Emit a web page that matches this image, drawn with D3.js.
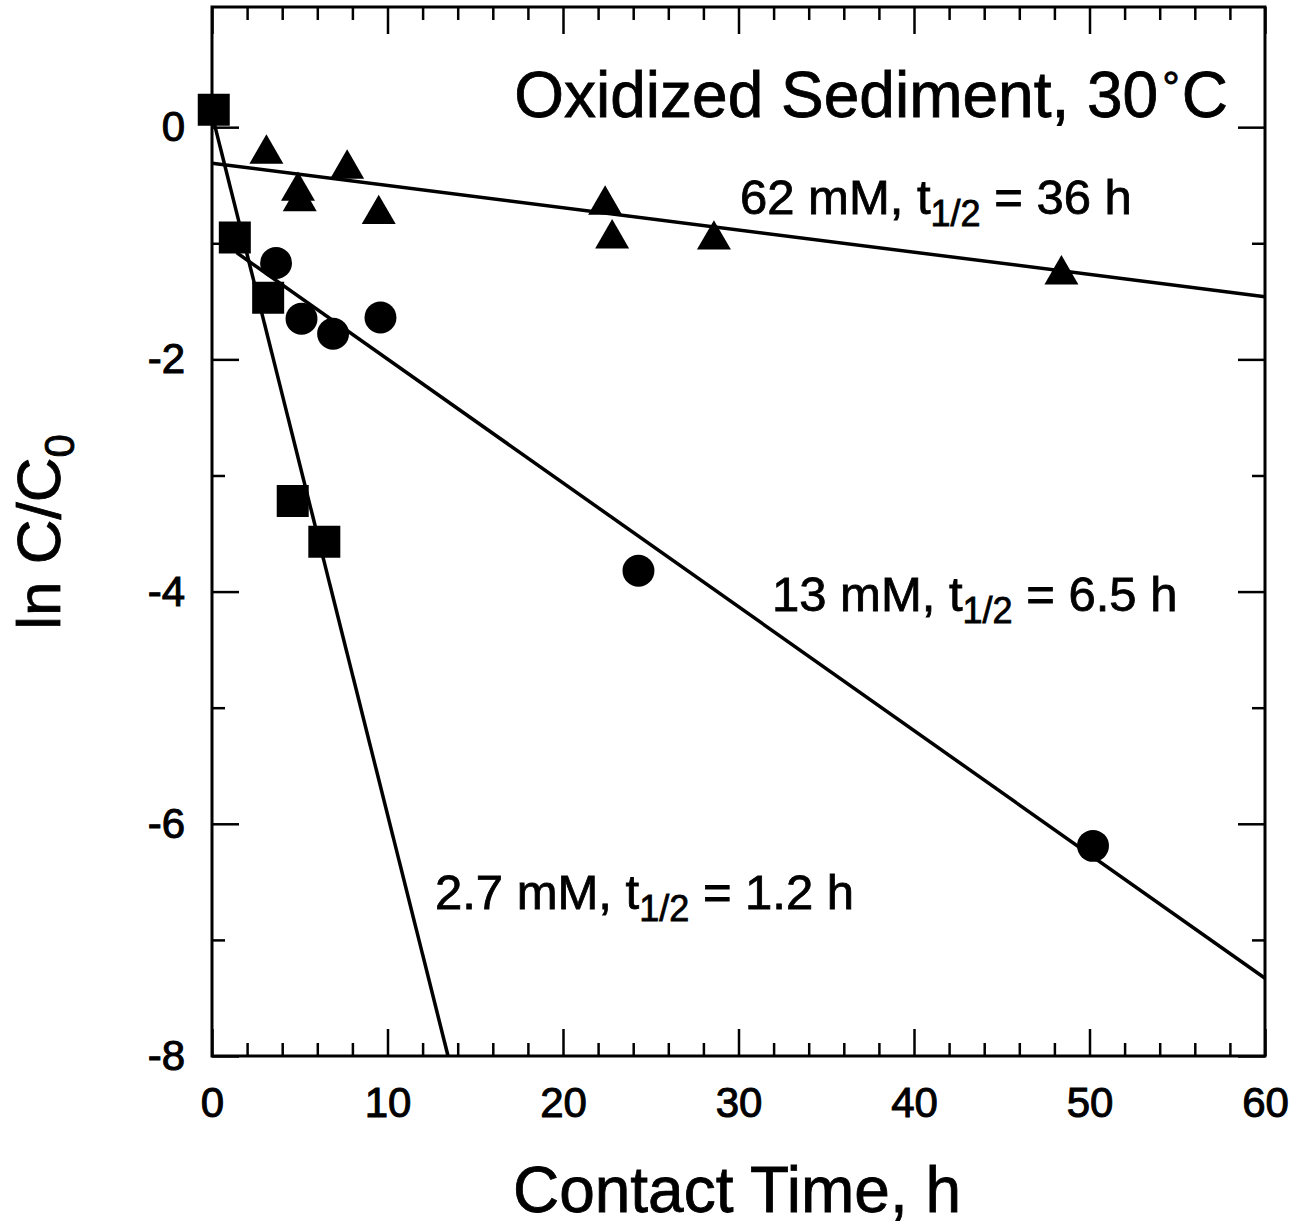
<!DOCTYPE html>
<html>
<head>
<meta charset="utf-8">
<script src="https://cdn.jsdelivr.net/npm/d3@7"></script>
<style>
  body { margin: 0; background: #fff; }
  text { font-family: "Liberation Sans", Arial, Helvetica, sans-serif; fill: #000; white-space: pre; }
</style>
</head>
<body>
<div id="chart"></div>
<script>
// values: x = contact time (h), y = ln C/C0
const sq27X = [0.1, 1.3, 3.2, 4.6, 6.4];
const sq27Y = [0.15, -0.95, -1.47, -3.22, -3.57];
const ci13X = [3.65, 5.1, 6.9, 9.6, 24.3, 50.2];
const ci13Y = [-1.17, -1.65, -1.78, -1.64, -3.82, -6.19];
const tr62X = [3.1, 4.9, 5.0, 7.7, 9.5, 22.4, 22.8, 28.6, 48.4];
const tr62Y = [-0.23, -0.55, -0.64, -0.36, -0.75, -0.67, -0.96, -0.97, -1.27];

// fitted first-order decay lines [start, end]
const fit27 = [[0.1, 0.05], [13.45, -8]];
const fit13 = [[1.4, -1.08], [60, -7.33]];
const fit62 = [[0, -0.31], [60, -1.46]];

const xMajor = [0, 10, 20, 30, 40, 50, 60];
const xMinor = [2, 4, 6, 8, 12, 14, 16, 18, 22, 24, 26, 28, 32, 34, 36, 38, 42, 44, 46, 48, 52, 54, 56, 58];
const yMajor = [-8, -6, -4, -2, 0];
const yMinor = [-7, -5, -3, -1];

const W = 1302, H = 1226;
const L = 212, R = 1265, T = 7, B = 1056;

const svg = d3.select("#chart").append("svg")
    .attr("width", W)
    .attr("height", H);

const x = d3.scaleLinear().domain([0, 60]).range([L, R]);
const y = d3.scaleLinear().domain([-8, 1.035]).range([B, T]);

function styleAxis(g) {
    g.select(".domain").remove();
    g.selectAll(".tick line").attr("stroke", "#000").attr("stroke-width", 2.5);
    g.selectAll(".tick text").attr("font-size", 42).attr("fill", "#000")
        .attr("stroke", "#000").attr("stroke-width", 1)
        .attr("font-family", "Liberation Sans, Arial, sans-serif");
}

// ticks (all inward)
svg.append("g").attr("transform", `translate(0,${B})`)
    .call(d3.axisBottom(x).tickValues(xMajor).tickSize(-27).tickPadding(31).tickFormat(d3.format("d")))
    .call(styleAxis);
svg.append("g").attr("transform", `translate(0,${B})`)
    .call(d3.axisBottom(x).tickValues(xMinor).tickSize(-13).tickFormat(""))
    .call(styleAxis);
svg.append("g").attr("transform", `translate(0,${T})`)
    .call(d3.axisTop(x).tickValues(xMajor).tickSize(-27).tickFormat(""))
    .call(styleAxis);
svg.append("g").attr("transform", `translate(0,${T})`)
    .call(d3.axisTop(x).tickValues(xMinor).tickSize(-13).tickFormat(""))
    .call(styleAxis);

svg.append("g").attr("transform", `translate(${L},0)`)
    .call(d3.axisLeft(y).tickValues(yMajor).tickSize(-27).tickPadding(27).tickFormat(d3.format("d")))
    .call(styleAxis);
svg.append("g").attr("transform", `translate(${L},0)`)
    .call(d3.axisLeft(y).tickValues(yMinor).tickSize(-13).tickFormat(""))
    .call(styleAxis);
svg.append("g").attr("transform", `translate(${R},0)`)
    .call(d3.axisRight(y).tickValues(yMajor).tickSize(-27).tickFormat(""))
    .call(styleAxis);
svg.append("g").attr("transform", `translate(${R},0)`)
    .call(d3.axisRight(y).tickValues(yMinor).tickSize(-13).tickFormat(""))
    .call(styleAxis);

// use hyphen-minus like the original
svg.selectAll(".tick text").text(function() { return this.textContent.replace("\u2212", "-"); });

// frame
svg.append("rect")
    .attr("x", L).attr("y", T)
    .attr("width", R - L).attr("height", B - T)
    .attr("fill", "none")
    .attr("stroke", "#000")
    .attr("stroke-width", 3);

// fit lines
const line = d3.line().x(d => x(d[0])).y(d => y(d[1]));
[fit62, fit13, fit27].forEach(f => {
    svg.append("path")
        .datum(f)
        .attr("fill", "none")
        .attr("stroke", "#000")
        .attr("stroke-width", 3.5)
        .attr("d", line);
});

// markers
function drawMarkers(xs, ys, type, size) {
    svg.append("g").selectAll("path")
        .data(xs.map((v, i) => [v, ys[i]]))
        .enter().append("path")
        .attr("transform", d => `translate(${x(d[0])},${y(d[1])})`)
        .attr("d", d3.symbol().type(type).size(size))
        .attr("fill", "#000");
}
drawMarkers(tr62X, tr62Y, d3.symbolTriangle, 500);
drawMarkers(ci13X, ci13Y, d3.symbolCircle, 800);
drawMarkers(sq27X, sq27Y, d3.symbolSquare, 1024);

// title
const title = svg.append("text")
    .attr("x", 1228).attr("y", 117)
    .attr("text-anchor", "end")
    .attr("font-size", 64)
    .attr("stroke", "#000").attr("stroke-width", 0.8);
title.append("tspan").text("Oxidized Sediment, 30");
title.append("tspan").attr("font-size", 44).attr("dx", 4).attr("dy", -14).text("\u00B0");
title.append("tspan").attr("dx", 2).attr("dy", 14).text("C");

// half-life labels
function label(px, py, main, rest) {
    const t = svg.append("text").attr("x", px).attr("y", py).attr("font-size", 49)
        .attr("stroke", "#000").attr("stroke-width", 0.8);
    t.append("tspan").text(main);
    t.append("tspan").attr("font-size", 36).attr("dy", 12).text("1/2");
    t.append("tspan").attr("dy", -12).text(rest);
}
label(740, 214, "62 mM, t", " = 36 h");
label(772, 611, "13 mM, t", " = 6.5 h");
label(435, 909, "2.7 mM, t", " = 1.2 h");

// axis titles
svg.append("text")
    .attr("x", 737).attr("y", 1212)
    .attr("text-anchor", "middle")
    .attr("font-size", 64)
    .attr("stroke", "#000").attr("stroke-width", 0.8)
    .text("Contact Time, h");

const yl = svg.append("text")
    .attr("transform", "translate(60,532) rotate(-90)")
    .attr("text-anchor", "middle")
    .attr("font-size", 62)
    .attr("stroke", "#000").attr("stroke-width", 0.8);
yl.append("tspan").text("ln C/C");
yl.append("tspan").attr("font-size", 42).attr("dy", 14).text("0");
</script>
</body>
</html>
